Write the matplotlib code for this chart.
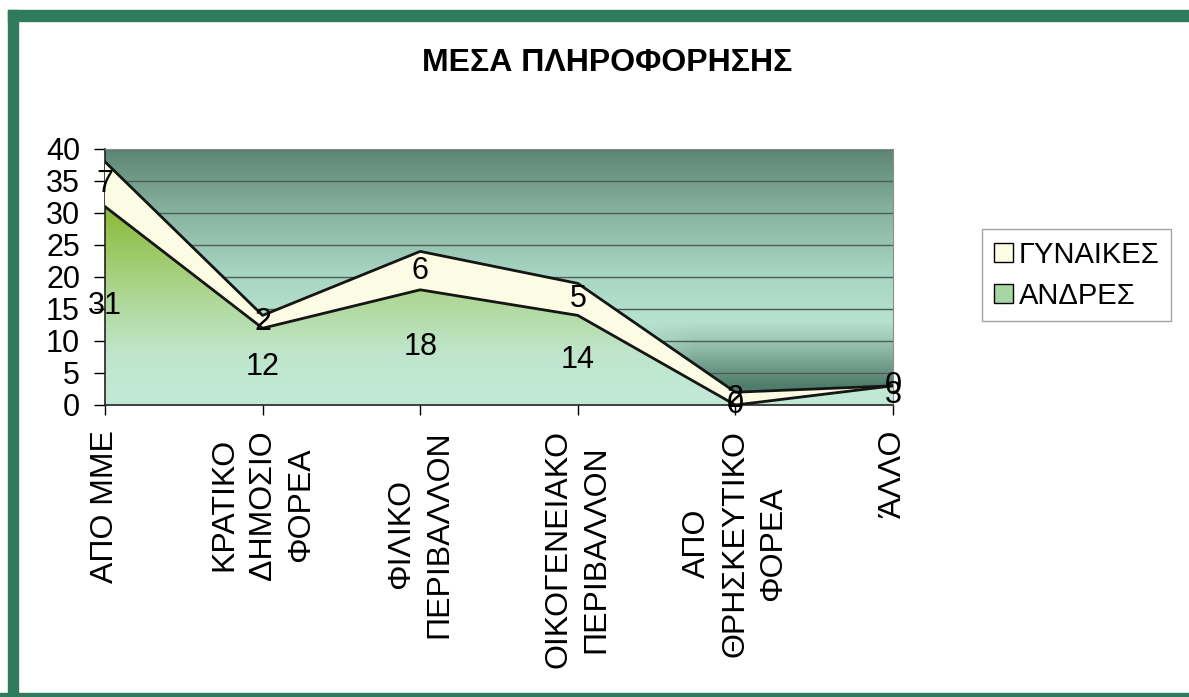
import numpy as np
import matplotlib
matplotlib.use('Agg')
import matplotlib.pyplot as plt
from matplotlib.colors import to_rgb
from matplotlib.patches import Rectangle, Patch

plt.rcParams['font.family'] = ['Liberation Sans', 'DejaVu Sans']

# data
categories = ['ΑΠΟ ΜΜΕ', 'ΚΡΑΤΙΚΟ\nΔΗΜΟΣΙΟ\nΦΟΡΕΑ', 'ΦΙΛΙΚΟ\nΠΕΡΙΒΑΛΛΟΝ',
              'ΟΙΚΟΓΕΝΕΙΑΚΟ\nΠΕΡΙΒΑΛΛΟΝ', 'ΑΠΟ\nΘΡΗΣΚΕΥΤΙΚΟ\nΦΟΡΕΑ', 'ΆΛΛΟ']
andres = [31, 12, 18, 14, 0, 3]
gynaikes = [7, 2, 6, 5, 2, 0]
series_names = ['ΓΥΝΑΙΚΕΣ', 'ΑΝΔΡΕΣ']

W, H = 1189, 697
green = '#2e7b5e'


def ramp(vals, stops, colors):
    cols = np.array([to_rgb(c) for c in colors])
    return np.stack([np.interp(vals, stops, cols[:, k]) for k in range(3)], axis=-1)


fig = plt.figure(figsize=(W / 100, H / 100), dpi=100)
ax = fig.add_axes([105 / W, 1 - 405 / H, (893 - 105) / W, (405 - 149) / H])

x = np.arange(len(categories))
men = np.array(andres)
total = men + np.array(gynaikes)
n = len(categories) - 1

# background wall gradient
xs = np.linspace(0, n, 400)
ys = np.linspace(0, 40, 240)
X, Y = np.meshgrid(xs, ys)
base = ramp(Y, [0, 10, 20, 30, 40],
            ['#c0e8d8', '#bce6d4', '#a9d7c5', '#88b4a2', '#5d8574'])
d = np.clip((X - 3.15) / 0.6, 0, 1) * np.clip((13 - Y) / 10, 0, 1)
dark = np.array(to_rgb('#4f7d6b'))
bg = base * (1 - d[..., None]) + dark * d[..., None]
ax.imshow(bg, extent=[0, n, 0, 40], origin='lower', aspect='auto', zorder=0)

ax.set_axisbelow(True)
ax.yaxis.grid(True, color='#4d5c56', lw=1)

# men area with gradient
poly = ax.fill_between(x, 0, men, facecolor='none', edgecolor='none', zorder=2)
mg = ramp(Y, [0, 8, 18, 31], ['#c2e9d6', '#bfe6cc', '#add58e', '#88ba36'])
gimg = ax.imshow(mg, extent=[0, n, 0, 40], origin='lower', aspect='auto', zorder=2)
gimg.set_clip_path(poly.get_paths()[0], transform=ax.transData)

# women stacked on top
ax.fill_between(x, men, total, facecolor='#fcfce4', edgecolor='none', zorder=3)
ax.plot(x, men, color='#151515', lw=2, zorder=4)
ax.plot(x, total, color='#151515', lw=2, zorder=4)

for i in x:
    ax.text(i, men[i] / 2, str(andres[i]), ha='center', va='center', fontsize=22, zorder=5)
    ax.text(i, men[i] + gynaikes[i] / 2, str(gynaikes[i]), ha='center', va='center',
            fontsize=22, zorder=5)

ax.set_xlim(0, n)
ax.set_ylim(0, 40)
ax.set_yticks(range(0, 41, 5))
ax.set_xticks(x)
ax.set_xticklabels(categories, rotation=90, fontsize=23, linespacing=1.35)
ax.tick_params(axis='y', direction='out', length=8, width=1, pad=10, labelsize=22)
ax.tick_params(axis='x', direction='out', length=7, width=1, pad=11)

for s in ['top', 'right']:
    ax.spines[s].set_color('#8c8c8c')
for s in ['left', 'bottom']:
    ax.spines[s].set_color('#222222')
    ax.spines[s].set_linewidth(1.2)

fig.text(607 / W, 1 - 63 / H, 'ΜΕΣΑ ΠΛΗΡΟΦΟΡΗΣΗΣ', ha='center', va='center',
         fontsize=23, fontweight='bold')

handles = [Patch(facecolor='#fcfce4', edgecolor='black'),
           Patch(facecolor='#a6d6a4', edgecolor='black')]
fig.legend(handles, series_names, loc='upper left',
           bbox_to_anchor=(982 / W, 1 - 229 / H), fontsize=21, frameon=True,
           edgecolor='#8c8c8c', fancybox=False, handlelength=0.65, handleheight=0.65,
           handletextpad=0.2, borderpad=0.4, labelspacing=0.45, borderaxespad=0)

# green frame
fig.patches.append(Rectangle((8 / W, 0), 10 / W, (H - 10) / H,
                             transform=fig.transFigure, color=green, zorder=10))
fig.patches.append(Rectangle((8 / W, 1 - 21 / H), 1 - 8 / W, 11 / H,
                             transform=fig.transFigure, color=green, zorder=10))
fig.patches.append(Rectangle((0, 0), 1, 4 / H,
                             transform=fig.transFigure, color=green, zorder=10))

fig.savefig('out.png', dpi=100)
